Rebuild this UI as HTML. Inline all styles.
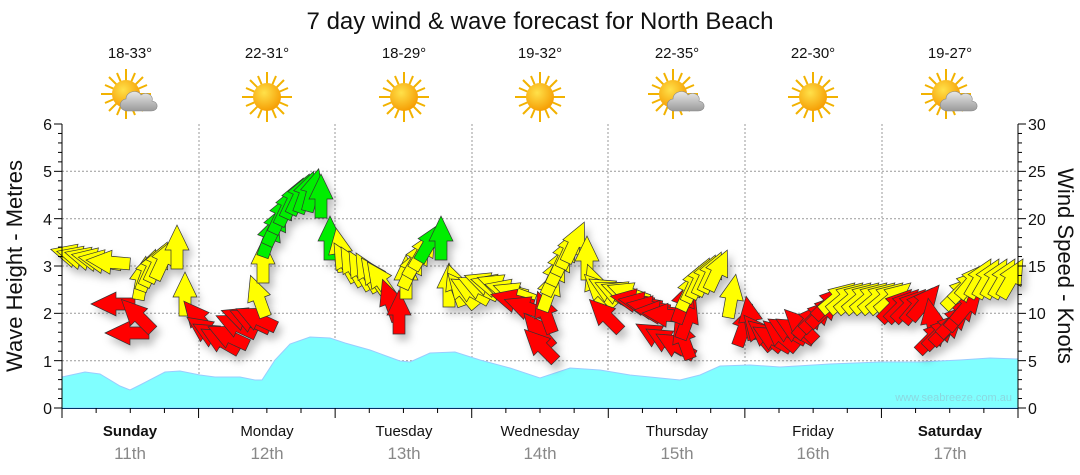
<!DOCTYPE html>
<html><head><meta charset="utf-8"><style>
body{margin:0;background:#fff;}
svg{display:block;font-family:"Liberation Sans",sans-serif;}
</style></head><body>
<svg id="s" width="1080" height="475" viewBox="0 0 1080 475" xmlns="http://www.w3.org/2000/svg">
<defs>
<path id="ar" d="M0,-22 L12,3 L6,3 L6,22 L-6,22 L-6,3 L-12,3 Z" stroke="#333" stroke-width="0.7" stroke-linejoin="miter"/>
<filter id="sh" x="-30%" y="-30%" width="160%" height="160%"><feDropShadow dx="4" dy="6" stdDeviation="4" flood-color="#000" flood-opacity="0.25"/></filter>
<radialGradient id="sun" cx="0.4" cy="0.35" r="0.7"><stop offset="0" stop-color="#ffe14a"/><stop offset="1" stop-color="#f59a00"/></radialGradient>
<linearGradient id="cl" x1="0" y1="0" x2="0" y2="1"><stop offset="0" stop-color="#e8e8e8"/><stop offset="1" stop-color="#9a9a9a"/></linearGradient>
<g id="sunI"><g stroke="#f2b200" stroke-width="2">
<line x1="0" y1="-25" x2="0" y2="25"/><line x1="-25" y1="0" x2="25" y2="0"/><line x1="-17" y1="-17" x2="17" y2="17"/><line x1="-17" y1="17" x2="17" y2="-17"/>
<line x1="-9" y1="-21" x2="9" y2="21"/><line x1="9" y1="-21" x2="-9" y2="21"/><line x1="-21" y1="-9" x2="21" y2="9"/><line x1="-21" y1="9" x2="21" y2="-9"/></g>
<circle r="14" fill="url(#sun)"/></g>
<g id="cloudI"><use href="#sunI" transform="translate(-6,-4)"/>
<path d="M-4,13 C-14,13 -14,2 -6,1 C-6,-7 6,-9 9,-3 C14,-7 22,-3 20,3 C27,4 27,13 19,13 Z" fill="url(#cl)" stroke="#888" stroke-width="0.6"/></g>
</defs>
<text x="540" y="29" font-size="24" text-anchor="middle" fill="#111">7 day wind &amp; wave forecast for North Beach</text>
<g font-size="15" text-anchor="middle" fill="#111">
<text x="130" y="58">18-33°</text><text x="267" y="58">22-31°</text><text x="404" y="58">18-29°</text><text x="540" y="58">19-32°</text><text x="677" y="58">22-35°</text><text x="813" y="58">22-30°</text><text x="950" y="58">19-27°</text></g>
<use href="#cloudI" x="132" y="98"/><use href="#sunI" x="267" y="97"/><use href="#sunI" x="404" y="97"/><use href="#sunI" x="540" y="97"/><use href="#cloudI" x="679" y="98"/><use href="#sunI" x="813" y="97"/><use href="#cloudI" x="952" y="98"/>
<g stroke="#999" stroke-width="1" stroke-dasharray="2,2">
<line x1="62" y1="360.7" x2="1018" y2="360.7"/><line x1="62" y1="313.3" x2="1018" y2="313.3"/><line x1="62" y1="266" x2="1018" y2="266"/><line x1="62" y1="218.7" x2="1018" y2="218.7"/><line x1="62" y1="171.3" x2="1018" y2="171.3"/>
<line x1="199" y1="124" x2="199" y2="408"/><line x1="335" y1="124" x2="335" y2="408"/><line x1="472" y1="124" x2="472" y2="408"/><line x1="608" y1="124" x2="608" y2="408"/><line x1="745" y1="124" x2="745" y2="408"/><line x1="882" y1="124" x2="882" y2="408"/></g>
<path d="M62,377 L85,372 L100,374 L120,386 L130,390 L140,385 L165,372 L180,371 L200,375 L215,377 L240,377 L255,380 L262,380 L275,360 L290,344 L310,337 L330,338 L345,343 L370,350 L400,361 L410,362 L430,353 L455,352 L480,360 L510,368 L540,378 L555,373 L570,368 L600,370 L630,375 L660,378 L680,380 L700,375 L720,366 L750,365 L780,367 L830,364 L880,362 L920,362 L960,360 L990,358 L1018,359 L1018,408 L62,408 Z" fill="#80ffff" stroke="#9cf" stroke-width="1"/>
<text x="1012" y="401" font-size="11" text-anchor="end" fill="#8ad8e0">www.seabreeze.com.au</text>
<g id="arrows" filter="url(#sh)"></g>
<g stroke="#000" stroke-width="1" id="ax"></g>
<g font-size="16" fill="#111" text-anchor="end">
<text x="52" y="130">6</text><text x="52" y="177">5</text><text x="52" y="225">4</text><text x="52" y="272">3</text><text x="52" y="319">2</text><text x="52" y="367">1</text><text x="52" y="414">0</text></g>
<g font-size="16" fill="#111">
<text x="1028" y="130">30</text><text x="1028" y="177">25</text><text x="1028" y="225">20</text><text x="1028" y="272">15</text><text x="1028" y="319">10</text><text x="1028" y="367">5</text><text x="1028" y="414">0</text></g>
<text transform="translate(22,266) rotate(-90)" font-size="22" text-anchor="middle" fill="#111">Wave Height - Metres</text>
<text transform="translate(1058,266) rotate(90)" font-size="22" text-anchor="middle" fill="#111">Wind Speed - Knots</text>
<g font-size="15" text-anchor="middle" fill="#111">
<text x="130" y="436" font-weight="bold">Sunday</text><text x="267" y="436">Monday</text><text x="404" y="436">Tuesday</text><text x="540" y="436">Wednesday</text><text x="677" y="436">Thursday</text><text x="813" y="436">Friday</text><text x="950" y="436" font-weight="bold">Saturday</text></g>
<g font-size="17" text-anchor="middle" fill="#888">
<text x="130" y="459">11th</text><text x="267" y="459">12th</text><text x="404" y="459">13th</text><text x="540" y="459">14th</text><text x="677" y="459">15th</text><text x="813" y="459">16th</text><text x="950" y="459">17th</text></g>
</svg>
<script>
var ns="http://www.w3.org/2000/svg";
var Y="#ffff00",R="#ff0000",G="#00ee00";
var A=[
[72,255,-75,Y],[78,257,-75,Y],[86,258,-75,Y],[93,259,-78,Y],[100,261,-80,Y],[108,262,-85,Y],
[113,304,-90,R],[127,333,-90,R],[137,315,-45,R],
[142,278,10,Y],[148,270,20,Y],[153,266,25,Y],[158,262,25,Y],[164,259,25,Y],[177,247,0,Y],[185,294,0,Y],
[198,318,-40,R],[205,330,-55,R],[212,335,-60,R],[220,340,-60,R],[228,336,-65,R],[236,325,-65,R],[242,318,-70,R],[250,320,-65,R],[256,318,-65,R],
[258,296,-20,Y],[263,261,0,Y],
[270,236,20,G],[276,225,25,G],[282,213,25,G],[288,205,25,G],[294,198,25,G],[300,194,25,G],[306,192,20,G],[313,190,15,G],[321,196,0,G],[330,238,0,G],
[340,250,-10,Y],[345,262,-30,Y],[352,266,-30,Y],[360,270,-30,Y],[367,272,-30,Y],[374,276,-35,Y],[380,280,-35,Y],
[390,300,-20,R],[399,312,0,R],
[406,277,0,Y],[412,268,25,Y],[418,258,30,Y],[424,250,30,Y],[430,242,30,G],[441,238,0,G],
[449,285,0,Y],[456,285,-20,Y],[462,290,-40,Y],[470,290,-60,Y],[478,287,-65,Y],[485,283,-70,Y],[492,285,-75,Y],[498,285,-70,Y],[506,290,-75,Y],[514,293,-70,Y],
[512,300,-75,R],[525,307,-70,R],[538,330,-40,R],[540,345,-45,R],[545,312,-20,R],
[550,290,20,Y],[555,275,25,Y],[560,265,25,Y],[565,255,25,Y],[570,248,25,Y],[575,242,25,Y],[587,258,0,Y],
[595,285,-20,Y],[600,290,-45,Y],[608,290,-60,Y],[615,292,-65,Y],[622,292,-70,Y],[628,293,-70,Y],
[605,315,-45,R],[632,300,-80,R],[640,303,-80,R],[648,307,-80,R],[656,312,-85,R],[664,315,-85,R],
[655,335,-60,R],[665,340,-60,R],[675,345,-60,R],[683,338,-20,R],[688,318,20,R],[684,302,20,R],
[690,290,25,Y],[695,282,25,Y],[700,278,25,Y],[706,275,25,Y],[712,272,25,Y],[718,270,25,Y],[732,296,10,Y],
[745,325,20,R],[750,318,-10,R],[758,332,-40,R],[765,335,-50,R],[772,338,-60,R],[780,335,-50,R],[787,330,-60,R],[795,330,-60,R],[800,325,-45,R],[810,320,40,R],[818,315,45,R],[825,310,45,R],[830,302,45,R],
[838,297,50,Y],[846,297,50,Y],[854,297,50,Y],[862,297,50,Y],[870,297,50,Y],[878,297,50,Y],[886,297,50,Y],[894,297,50,Y],
[896,305,45,R],[903,305,45,R],[910,305,45,R],[918,305,40,R],[925,302,40,R],[932,320,-10,R],
[934,336,45,R],[941,332,45,R],[948,328,45,R],[955,320,45,R],[962,312,40,R],[968,305,40,R],
[960,292,45,Y],[967,285,45,Y],[973,280,40,Y],[980,278,30,Y],[988,278,30,Y],[996,278,30,Y],[1004,278,30,Y],[1012,278,30,Y]];
var g=document.getElementById("arrows");
A.forEach(function(a){var u=document.createElementNS(ns,"use");u.setAttribute("href","#ar");u.setAttribute("fill",a[3]);u.setAttribute("transform","translate("+a[0]+","+a[1]+") rotate("+a[2]+")");g.appendChild(u);});
var ax=document.getElementById("ax"),h="";
h+='<line x1="62" y1="124" x2="62" y2="409"/><line x1="1018" y1="124" x2="1018" y2="409"/><line x1="62" y1="408.5" x2="1018" y2="408.5" stroke="#036"/>';
for(var i=0;i<=30;i++){var y=408-i*284/30;var l=(i%5==0)?8:4;h+='<line x1="'+(62-l)+'" y1="'+y+'" x2="62" y2="'+y+'"/>';h+='<line x1="1018" y1="'+y+'" x2="'+(1018+l)+'" y2="'+y+'"/>';}
for(var j=0;j<=28;j++){var x=62+j*956/28;h+='<line x1="'+x+'" y1="408" x2="'+x+'" y2="'+(j%4==0?418:413)+'"/>';}
ax.innerHTML=h;
</script>
</body></html>
